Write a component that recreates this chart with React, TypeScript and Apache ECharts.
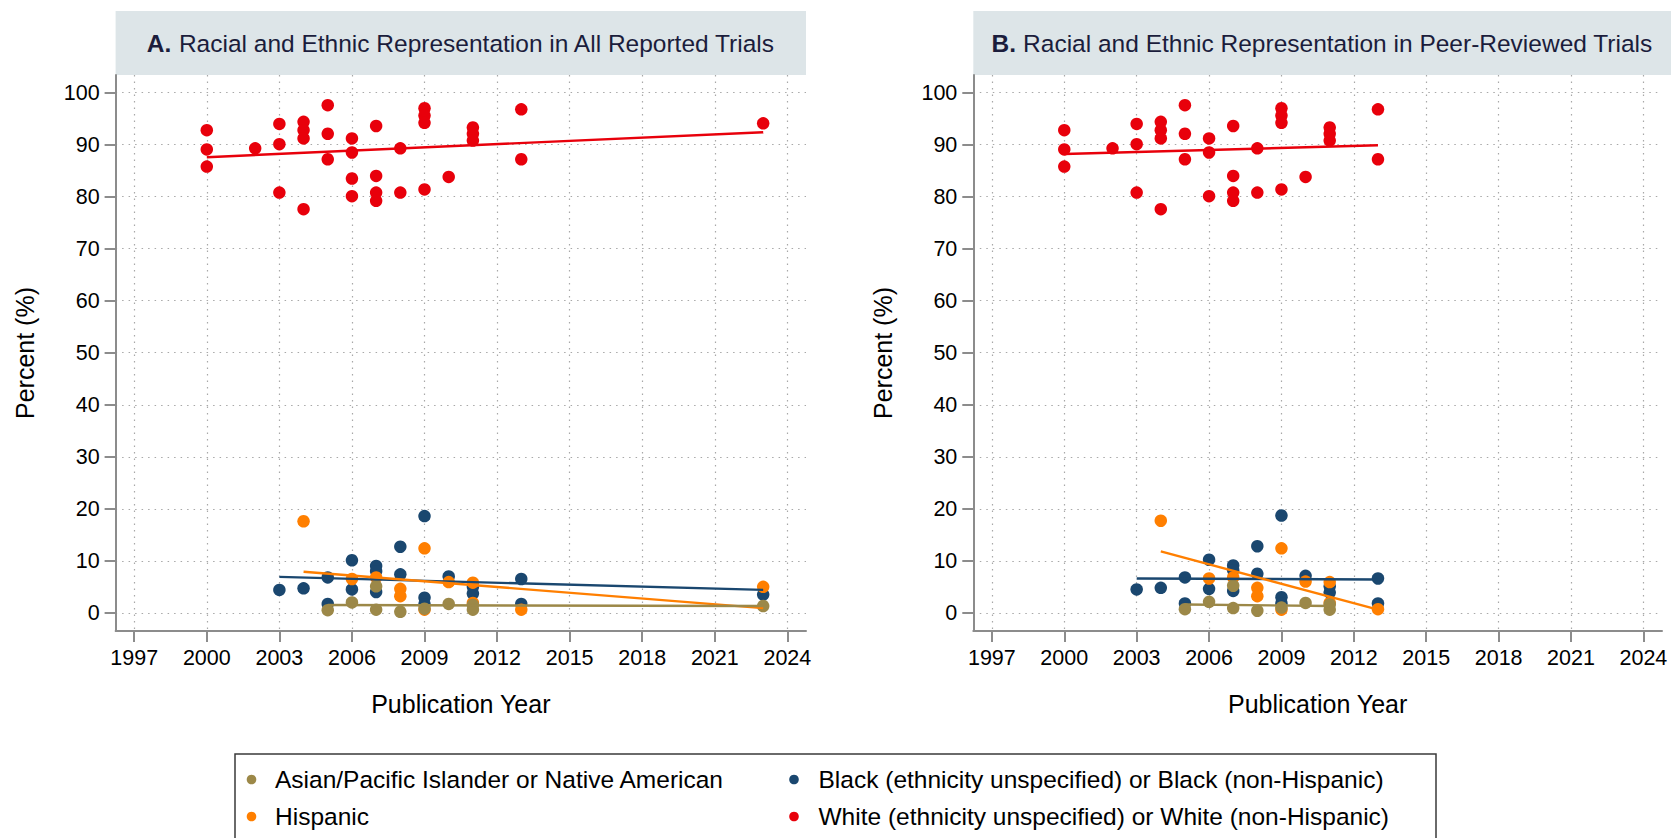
import React, { useEffect, useRef } from "react";
import * as echarts from "echarts";

type Pt = [number, number];

const FONT = "'Liberation Sans', Arial, Helvetica, sans-serif";

const yearTicks = [1997, 2000, 2003, 2006, 2009, 2012, 2015, 2018, 2021, 2024];
const percentTicks = [0, 10, 20, 30, 40, 50, 60, 70, 80, 90, 100];

const panelTitlesBold = ["A.", "B."];
const panelTitlesRest = [
  " Racial and Ethnic Representation in All Reported Trials",
  " Racial and Ethnic Representation in Peer-Reviewed Trials",
];

const groupNames = [
  "Asian/Pacific Islander or Native American",
  "Hispanic",
  "Black (ethnicity unspecified) or Black (non-Hispanic)",
  "White (ethnicity unspecified) or White (non-Hispanic)",
];
const groupColors = ["#9c8848", "#ff7f00", "#1a476f", "#e8000b"];

// ---- Panel A: all reported trials ----
const allAsian: Pt[] = [
  [2005, 0.5], [2006, 2.0], [2007, 5.1], [2007, 0.6], [2008, 0.2], [2009, 0.8],
  [2010, 1.7], [2011, 1.5], [2011, 0.6], [2023, 1.3],
];
const allHispanic: Pt[] = [
  [2004, 17.6], [2006, 6.5], [2007, 6.8], [2008, 4.6], [2008, 3.2], [2009, 12.4],
  [2009, 0.6], [2010, 5.9], [2011, 5.8], [2011, 1.9], [2013, 0.6], [2023, 5.0],
];
const allBlack: Pt[] = [
  [2003, 4.4], [2004, 4.7], [2005, 6.8], [2005, 1.7], [2006, 10.1], [2006, 4.5],
  [2007, 9.0], [2007, 8.0], [2007, 4.0], [2008, 12.7], [2008, 7.4], [2009, 18.6],
  [2009, 2.9], [2009, 1.6], [2010, 7.0], [2011, 5.0], [2011, 3.7], [2013, 6.5],
  [2013, 1.7], [2023, 3.5],
];
const allWhite: Pt[] = [
  [2000, 92.8], [2000, 89.1], [2000, 85.8], [2002, 89.3], [2003, 94.0], [2003, 90.1],
  [2003, 80.8], [2004, 94.4], [2004, 92.8], [2004, 91.2], [2004, 77.6], [2005, 97.6],
  [2005, 92.1], [2005, 87.2], [2006, 91.2], [2006, 88.5], [2006, 83.5], [2006, 80.1],
  [2007, 93.6], [2007, 84.0], [2007, 80.8], [2007, 79.2], [2008, 89.3], [2008, 80.8],
  [2009, 97.0], [2009, 95.6], [2009, 94.2], [2009, 81.4], [2010, 83.8], [2011, 93.3],
  [2011, 92.1], [2011, 90.8], [2013, 96.8], [2013, 87.2], [2023, 94.1],
];
// fitted lines (end points)
const allAsianFit: Pt[] = [[2005, 1.5], [2023, 1.3]];
const allHispanicFit: Pt[] = [[2004, 7.9], [2023, 0.9]];
const allBlackFit: Pt[] = [[2003, 6.9], [2023, 4.4]];
const allWhiteFit: Pt[] = [[2000, 87.6], [2023, 92.4]];

// ---- Panel B: peer-reviewed trials ----
const peerAsian: Pt[] = [
  [2005, 0.7], [2006, 2.1], [2007, 5.2], [2007, 0.9], [2008, 0.4], [2009, 1.0],
  [2010, 1.9], [2011, 1.6], [2011, 0.6],
];
const peerHispanic: Pt[] = [
  [2004, 17.7], [2006, 6.6], [2007, 6.8], [2008, 4.8], [2008, 3.2], [2009, 12.4],
  [2009, 0.6], [2010, 6.0], [2011, 5.9], [2011, 1.9], [2013, 0.7],
];
const peerBlack: Pt[] = [
  [2003, 4.5], [2004, 4.8], [2005, 6.8], [2005, 1.8], [2006, 10.2], [2006, 4.6],
  [2007, 9.1], [2007, 8.2], [2007, 4.2], [2008, 12.8], [2008, 7.5], [2009, 18.7],
  [2009, 3.0], [2009, 1.8], [2010, 7.1], [2011, 5.1], [2011, 3.9], [2013, 6.6],
  [2013, 1.8],
];
const peerWhite: Pt[] = [
  [2000, 92.8], [2000, 89.1], [2000, 85.8], [2002, 89.3], [2003, 94.0], [2003, 90.1],
  [2003, 80.8], [2004, 94.4], [2004, 92.8], [2004, 91.2], [2004, 77.6], [2005, 97.6],
  [2005, 92.1], [2005, 87.2], [2006, 91.2], [2006, 88.5], [2006, 80.1], [2007, 93.6],
  [2007, 84.0], [2007, 80.8], [2007, 79.2], [2008, 89.3], [2008, 80.8], [2009, 97.0],
  [2009, 95.6], [2009, 94.2], [2009, 81.4], [2010, 83.8], [2011, 93.3], [2011, 92.1],
  [2011, 90.8], [2013, 96.8], [2013, 87.2],
];
const peerAsianFit: Pt[] = [[2005, 1.6], [2011, 1.3]];
const peerHispanicFit: Pt[] = [[2004, 11.8], [2013, 0.6]];
const peerBlackFit: Pt[] = [[2003, 6.6], [2013, 6.4]];
const peerWhiteFit: Pt[] = [[2000, 88.2], [2013, 89.9]];

const panelPoints: Pt[][][] = [
  [allAsian, allHispanic, allBlack, allWhite],
  [peerAsian, peerHispanic, peerBlack, peerWhite],
];
const panelFits: Pt[][][] = [
  [allAsianFit, allHispanicFit, allBlackFit, allWhiteFit],
  [peerAsianFit, peerHispanicFit, peerBlackFit, peerWhiteFit],
];

// draw order: Black, Hispanic, Asian, White (index into groups)
const drawOrder = [2, 1, 0, 3];

const W = 1671;
const H = 838;
const grids = [
  { left: 115.6, right: 865, top: 75, bottom: 207 },
  { left: 973.3, right: 9, top: 75, bottom: 207 },
];
const titleBoxes = [
  { x: 115.6, w: 690.4, cx: 460.8 },
  { x: 973.3, w: 697.7, cx: 1322 },
];

const axisGray = "#8c8c8c";

export default function App() {
  const ref = useRef<HTMLDivElement>(null);

  useEffect(() => {
    if (!ref.current) return;
    const chart = echarts.init(ref.current, undefined, { renderer: "svg" });

    const series: any[] = [];
    [0, 1].forEach((p) => {
      drawOrder.forEach((g) => {
        series.push({
          type: "scatter",
          name: groupNames[g],
          xAxisIndex: p,
          yAxisIndex: p,
          data: panelPoints[p][g],
          symbol: "circle",
          symbolSize: 12.5,
          itemStyle: { color: groupColors[g], opacity: 1 },
          emphasis: { disabled: true },
          silent: true,
        });
        series.push({
          type: "line",
          name: groupNames[g] + " fit",
          xAxisIndex: p,
          yAxisIndex: p,
          data: panelFits[p][g],
          symbol: "none",
          lineStyle: { color: groupColors[g], width: 2.4 },
          emphasis: { disabled: true },
          silent: true,
        });
      });
    });

    const graphics: any[] = [];
    [0, 1].forEach((p) => {
      const tb = titleBoxes[p];
      graphics.push({
        type: "rect",
        shape: { x: tb.x, y: 11, width: tb.w, height: 64 },
        style: { fill: "#dde5e8" },
        silent: true,
      });
      graphics.push({
        type: "text",
        x: tb.cx,
        y: 43,
        style: {
          text: "{b|" + panelTitlesBold[p] + "}" + panelTitlesRest[p],
          fontSize: 24.5,
          fontFamily: FONT,
          fill: "#1b1d3c",
          align: "center",
          verticalAlign: "middle",
          textAlign: "center",
          textVerticalAlign: "middle",
          rich: {
            b: { fontWeight: "bold", fontSize: 24.5, fontFamily: FONT, fill: "#1b1d3c" },
          },
        },
        silent: true,
      });
    });

    // legend box
    graphics.push({
      type: "rect",
      shape: { x: 235, y: 754, width: 1201, height: 110 },
      style: { fill: "#fff", stroke: "#3a3a3a", lineWidth: 1.5 },
      silent: true,
    });
    const legendPos = [
      { g: 0, mx: 251.5, tx: 275, y: 779.5 },
      { g: 1, mx: 251.5, tx: 275, y: 816.5 },
      { g: 2, mx: 794, tx: 818.5, y: 779.5 },
      { g: 3, mx: 794, tx: 818.5, y: 816.5 },
    ];
    legendPos.forEach((l) => {
      graphics.push({
        type: "circle",
        shape: { cx: l.mx, cy: l.y, r: 4.8 },
        style: { fill: groupColors[l.g] },
        silent: true,
      });
      graphics.push({
        type: "text",
        x: l.tx,
        y: l.y,
        style: {
          text: groupNames[l.g],
          fontSize: 24.5,
          fontFamily: FONT,
          fill: "#000",
          align: "left",
          verticalAlign: "middle",
          textAlign: "left",
          textVerticalAlign: "middle",
        },
        silent: true,
      });
    });

    const option: any = {
      animation: false,
      textStyle: { fontFamily: FONT },
      grid: grids.map((g) => ({ ...g, containLabel: false })),
      xAxis: [0, 1].map((i) => ({
        type: "value",
        gridIndex: i,
        min: 1996.23,
        max: 2024.77,
        name: "Publication Year",
        nameLocation: "middle",
        nameGap: 60,
        nameTextStyle: { fontSize: 25, color: "#000", fontFamily: FONT },
        axisLine: { show: true, onZero: false, lineStyle: { color: axisGray, width: 2 } },
        axisTick: {
          show: true,
          inside: false,
          length: 11,
          customValues: yearTicks,
          lineStyle: { color: axisGray, width: 2 },
        },
        axisLabel: {
          show: true,
          customValues: yearTicks,
          margin: 16,
          fontSize: 21.5,
          color: "#000",
          fontFamily: FONT,
          formatter: (v: number) => String(v),
        },
        splitLine: {
          show: true,
          lineStyle: { type: [1.5, 5], color: "#a8a8a8", width: 1.2 },
        },
      })),
      yAxis: [0, 1].map((i) => ({
        type: "value",
        gridIndex: i,
        min: -3.5,
        max: 103.4,
        name: "Percent (%)",
        nameLocation: "middle",
        nameGap: 78,
        nameRotate: 90,
        nameTextStyle: { fontSize: 25, color: "#000", fontFamily: FONT },
        axisLine: { show: true, onZero: false, lineStyle: { color: axisGray, width: 2 } },
        axisTick: {
          show: true,
          inside: false,
          length: 11,
          customValues: percentTicks,
          lineStyle: { color: axisGray, width: 2 },
        },
        axisLabel: {
          show: true,
          customValues: percentTicks,
          margin: 16,
          fontSize: 21.5,
          color: "#000",
          fontFamily: FONT,
          formatter: (v: number) => String(v),
        },
        splitLine: {
          show: true,
          lineStyle: { type: [1.5, 5], color: "#a8a8a8", width: 1.2 },
        },
      })),
      series,
      graphic: graphics,
    };

    chart.setOption(option);
    return () => chart.dispose();
  }, []);

  return (
    <div
      ref={ref}
      style={{ position: "fixed", left: 0, top: 0, width: W, height: H, background: "#fff" }}
    />
  );
}
